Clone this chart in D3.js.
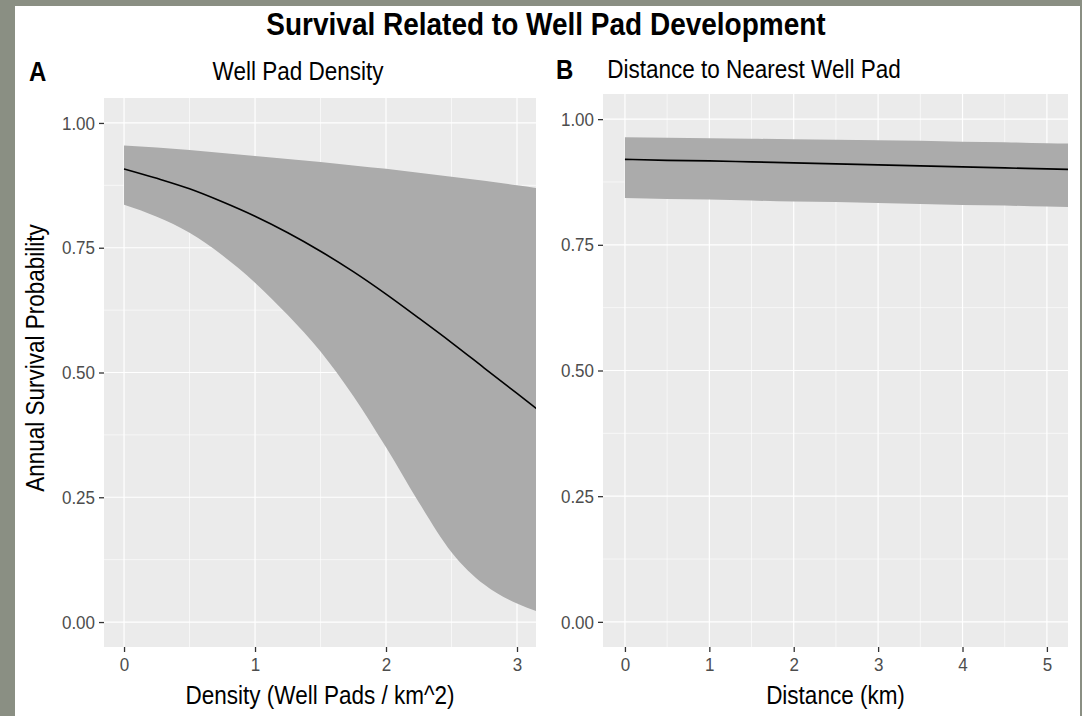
<!DOCTYPE html>
<html>
<head>
<meta charset="utf-8">
<script src="https://cdn.jsdelivr.net/npm/d3@7"></script>
<style>
  html, body { margin: 0; padding: 0; background: #8a8f83; }
  svg { display: block; font-family: "Liberation Sans", Arial, sans-serif; }
</style>
</head>
<body>
<svg id="chart" width="1082" height="716"></svg>
<script>
// ---- Data ----
const densityX     = [0, 0.25, 0.5, 0.75, 1.0, 1.25, 1.5, 1.75, 2.0, 2.25, 2.5, 2.75, 3.0, 3.25];
const densityFit   = [0.908, 0.889, 0.868, 0.842, 0.813, 0.780, 0.743, 0.702, 0.657, 0.609, 0.560, 0.509, 0.458, 0.407];
const densityLower = [0.836, 0.812, 0.780, 0.735, 0.680, 0.615, 0.542, 0.453, 0.350, 0.240, 0.140, 0.075, 0.037, 0.014];
const densityUpper = [0.955, 0.951, 0.946, 0.940, 0.934, 0.928, 0.922, 0.915, 0.908, 0.900, 0.892, 0.884, 0.875, 0.866];

const distanceX     = [0, 0.5, 1, 1.5, 2, 2.5, 3, 3.5, 4, 4.5, 5, 5.5];
const distanceFit   = [0.920, 0.918, 0.917, 0.915, 0.913, 0.911, 0.909, 0.907, 0.905, 0.903, 0.901, 0.899];
const distanceLower = [0.843, 0.841, 0.840, 0.838, 0.836, 0.835, 0.833, 0.831, 0.829, 0.828, 0.826, 0.824];
const distanceUpper = [0.964, 0.963, 0.962, 0.961, 0.960, 0.959, 0.958, 0.957, 0.955, 0.954, 0.952, 0.951];

const yTicks       = [0, 0.25, 0.5, 0.75, 1.0];
const yTickLabels  = ["0.00", "0.25", "0.50", "0.75", "1.00"];
const yMinor       = [0.125, 0.375, 0.625, 0.875];
const densityTicks = [0, 1, 2, 3];
const densityMinor = [0.5, 1.5, 2.5];
const distanceTicks = [0, 1, 2, 3, 4, 5];
const distanceMinor = [0.5, 1.5, 2.5, 3.5, 4.5];

const mainTitle = "Survival Related to Well Pad Development";
const yTitle = "Annual Survival Probability";

// ---- Drawing ----
const STRETCH = 1.13; // the reference text is slightly taller than wide
const svg = d3.select("#chart");

function addText(x, y, str, size, opts = {}) {
  return svg.append("text")
    .attr("transform", opts.rotate
      ? `translate(${x},${y}) scale(${STRETCH},1) rotate(-90)`
      : `translate(${x},${y}) scale(1,${STRETCH})`)
    .attr("text-anchor", opts.anchor || "middle")
    .attr("font-size", size)
    .attr("font-weight", opts.bold ? "bold" : "normal")
    .attr("fill", "#000")
    .text(str);
}

svg.append("rect").attr("x", 15).attr("y", 6).attr("width", 1065).attr("height", 716)
  .attr("fill", "#ffffff");

addText(546, 35, mainTitle, 28, { bold: true });

function panel(cfg) {
  const x = d3.scaleLinear().domain(cfg.xDomain).range([cfg.left, cfg.right]);
  const y = d3.scaleLinear().domain([-0.05, 1.05]).range([cfg.bottom, cfg.top]);
  const g = svg.append("g");

  g.append("rect").attr("x", cfg.left).attr("y", cfg.top)
    .attr("width", cfg.right - cfg.left).attr("height", cfg.bottom - cfg.top)
    .attr("fill", "#ebebeb");

  const clipId = "clip" + cfg.id;
  svg.append("clipPath").attr("id", clipId).append("rect")
    .attr("x", cfg.left).attr("y", cfg.top)
    .attr("width", cfg.right - cfg.left).attr("height", cfg.bottom - cfg.top);

  g.selectAll(".ymin").data(yMinor).join("line")
    .attr("x1", cfg.left).attr("x2", cfg.right)
    .attr("y1", d => y(d)).attr("y2", d => y(d))
    .attr("stroke", "#fff").attr("stroke-width", 0.6);
  g.selectAll(".xmin").data(cfg.xMinor).join("line")
    .attr("y1", cfg.top).attr("y2", cfg.bottom)
    .attr("x1", d => x(d)).attr("x2", d => x(d))
    .attr("stroke", "#fff").attr("stroke-width", 0.6);
  g.selectAll(".ymaj").data(yTicks).join("line")
    .attr("x1", cfg.left).attr("x2", cfg.right)
    .attr("y1", d => y(d)).attr("y2", d => y(d))
    .attr("stroke", "#fff").attr("stroke-width", 1.2);
  g.selectAll(".xmaj").data(cfg.xTicks).join("line")
    .attr("y1", cfg.top).attr("y2", cfg.bottom)
    .attr("x1", d => x(d)).attr("x2", d => x(d))
    .attr("stroke", "#fff").attr("stroke-width", 1.2);

  const pts = cfg.xs.map((v, i) => ({ x: v, fit: cfg.fit[i], lo: cfg.lo[i], hi: cfg.hi[i] }));
  const area = d3.area().curve(d3.curveMonotoneX)
    .x(d => x(d.x)).y0(d => y(d.lo)).y1(d => y(d.hi));
  const line = d3.line().curve(d3.curveMonotoneX)
    .x(d => x(d.x)).y(d => y(d.fit));
  const plot = g.append("g").attr("clip-path", `url(#${clipId})`);
  plot.append("path").datum(pts).attr("d", area).attr("fill", "#ababab");
  plot.append("path").datum(pts).attr("d", line).attr("fill", "none")
    .attr("stroke", "#000").attr("stroke-width", 1.6);

  const yAxis = d3.axisLeft(y).tickValues(yTicks)
    .tickFormat((d, i) => yTickLabels[i]).tickSize(5).tickPadding(4);
  const ya = g.append("g").attr("transform", `translate(${cfg.left},0)`).call(yAxis);
  const xAxis = d3.axisBottom(x).tickValues(cfg.xTicks)
    .tickFormat(d3.format("d")).tickSize(5).tickPadding(6);
  const xa = g.append("g").attr("transform", `translate(0,${cfg.bottom})`).call(xAxis);
  [ya, xa].forEach(a => {
    a.attr("font-size", 17).attr("font-family", "Liberation Sans, Arial, sans-serif");
    a.select(".domain").remove();
    a.selectAll(".tick line").attr("stroke", "#333").attr("stroke-width", 1.3);
    a.selectAll(".tick text").attr("fill", "#4d4d4d");
  });
  ya.selectAll(".tick text").attr("transform", `scale(1,${STRETCH})`);
  xa.selectAll(".tick text").attr("transform", `scale(1,${STRETCH}) translate(0,-1.5)`);

  addText(cfg.tagX, cfg.subY + 1, cfg.tag, 24, { bold: true, anchor: "start" });
  addText(cfg.subX, cfg.subY, cfg.subtitle, 22.5);
  addText((cfg.left + cfg.right) / 2, 704, cfg.xTitle, 22.5);
}

panel({
  id: "A", left: 104, right: 536, top: 98, bottom: 647, xDomain: [-0.153, 3.145],
  xs: densityX, fit: densityFit, lo: densityLower, hi: densityUpper,
  xTicks: densityTicks, xMinor: densityMinor,
  tag: "A", tagX: 29, subtitle: "Well Pad Density", subX: 298, subY: 80,
  xTitle: "Density (Well Pads / km^2)"
});
panel({
  id: "B", left: 603, right: 1068, top: 94, bottom: 647, xDomain: [-0.26, 5.25],
  xs: distanceX, fit: distanceFit, lo: distanceLower, hi: distanceUpper,
  xTicks: distanceTicks, xMinor: distanceMinor,
  tag: "B", tagX: 556, subtitle: "Distance to Nearest Well Pad", subX: 754, subY: 78,
  xTitle: "Distance (km)"
});

addText(44, 358, yTitle, 22.5, { rotate: true });
</script>
</body>
</html>
